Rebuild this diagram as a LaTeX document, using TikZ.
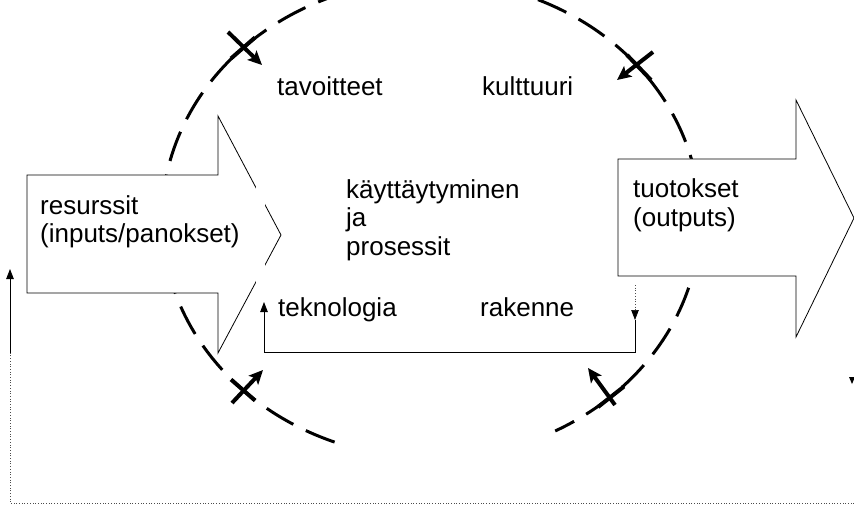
\documentclass[tikz,border=0pt]{standalone}
\usepackage{fontspec}
\setmainfont{Liberation Sans}
\usetikzlibrary{arrows.meta}
\begin{document}
\begin{tikzpicture}[x=1pt,y=-1pt,
  lbl/.style={anchor=base west, inner sep=0pt, font=\fontsize{26}{28.5}\selectfont, align=left},
  bigarrow/.style={draw=black, fill=white, line width=0.8pt, line join=miter},
  boundary/.style={line width=3pt, dash pattern=on 31pt off 14pt},
  crossmark/.style={line width=4pt},
  flowarrow/.style={line width=4pt, -{Stealth[length=14pt,width=13pt,inset=3pt]}},
  conn/.style={line width=0.9pt},
  dotconn/.style={line width=0.7pt, dotted, black!70},
  smalltip/.style={-{Triangle[length=10pt,width=7.5pt,color=black]}}
]
\useasboundingbox (0,0) rectangle (854,505);
\clip (0,0) rectangle (854,505);

% organisation boundary (dashed ellipse)
\draw[boundary] (334.6,442.1) arc[start angle=111, end angle=422.5, x radius=269, y radius=239];

% boundary-crossing arrows
\draw[crossmark] (231,58.5) -- (255,37.5);
\draw[flowarrow] (228,32) -- (262,65);
\draw[crossmark] (627,55) -- (651,80);
\draw[flowarrow] (653,52) -- (617,80);
\draw[crossmark] (231,379.5) -- (255,400.5);
\draw[flowarrow] (232,403) -- (263,370);
\draw[crossmark] (598,407) -- (624,386.5);
\draw[flowarrow] (615,405) -- (588,368);

% input arrow
\draw[bigarrow] (27,175) -- (218,175) -- (218,116) -- (281,235) -- (218,353) -- (218,293) -- (27,293) -- cycle;
\fill[white] (255.5,180) rectangle (264.5,290);
% output arrow
\draw[bigarrow] (618,159) -- (796,159) -- (796,100) -- (854,218) -- (796,337) -- (796,276) -- (618,276) -- cycle;

% texts (base anchor = baseline of the last line)
\node[lbl] (res) at (40,243) {resurssit\\(inputs/panokset)};
\node[lbl] (out) at (633,226) {tuotokset\\(outputs)};
\node[lbl] (tav) at (277,96) {tavoitteet};
\node[lbl] (kul) at (482,96) {kulttuuri};
\node[lbl] (kay) at (346,255) {käyttäytyminen\\ja\\prosessit};
\node[lbl] (tek) at (278,316) {teknologia};
\node[lbl] (rak) at (480,316) {rakenne};

% feedback connectors
\coordinate (fbEnd) at (854,503);
\coordinate (fbCorner) at (10,503);
\coordinate (fbMid) at (10,353);
\coordinate (fbTop) at (10,269);
\draw[dotconn] (fbEnd) -- (fbCorner) -- (fbMid);
\draw[conn, smalltip] (fbMid) -- (fbTop);

\coordinate (oa) at (635,285);
\coordinate (ob) at (635,320);
\coordinate (oc) at (635,352.5);
\coordinate (tc) at (264,352.5);
\coordinate (tt) at (264,302);
\draw[dotconn, smalltip] (oa) -- (ob);
\draw[conn, smalltip] (ob) -- (oc) -- (tc) -- (tt);

% arrowhead at right edge
\fill (849,377) -- (855,377) -- (852,384) -- cycle;
\end{tikzpicture}
\end{document}
